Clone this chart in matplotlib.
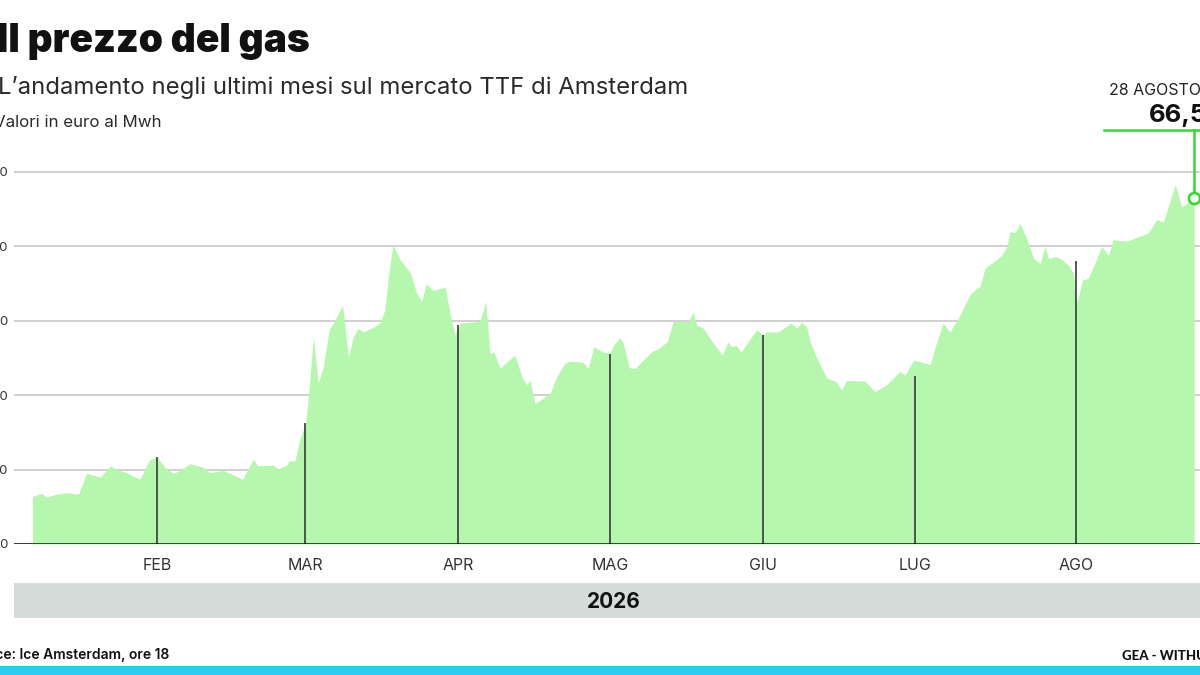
import numpy as np
import matplotlib.pyplot as plt
from matplotlib.patches import Rectangle

# prezzo TTF (euro/MWh), giorno = giorni dal 1 gennaio 2026
giorni = [6.1, 7.9, 8.9, 10.9, 12.9, 15.3, 16.9, 19.6, 21.7, 22.9, 24.9, 27.6, 29.5, 31.0,
          32.5, 34.1, 35.7, 37.2, 39.8, 41.0, 43.5, 45.4, 47.2, 49.2, 50.1, 53.0, 53.9,
          55.5, 56.0, 57.1, 58.0, 59.1, 59.7, 60.7, 61.7, 62.7, 63.9, 65.1, 66.6, 67.8,
          68.8, 69.8, 70.8, 72.5, 74.2, 75.2, 75.9, 76.8, 78.3, 80.4, 81.5, 82.6, 83.6,
          84.9, 87.4, 88.4, 89.4, 90.4, 94.3, 95.5, 96.3, 97.1, 98.3, 99.7, 101.2, 102.6,
          103.6, 104.2, 105.2, 106.8, 108.2, 109.5, 111.1, 112.1, 114.7, 115.7, 116.8,
          118.7, 120.0, 120.7, 122.0, 122.7, 123.9, 125.1, 126.7, 128.4, 130.1, 131.6,
          132.8, 135.9, 136.8, 137.6, 138.9, 140.9, 142.8, 143.9, 144.6, 145.5, 146.6,
          148.0, 149.7, 151.1, 151.7, 154.0, 155.3, 156.5, 157.7, 158.6, 159.6, 160.4,
          161.6, 163.6, 165.5, 166.5, 167.5, 171.1, 173.1, 175.4, 178.0, 179.0, 180.7,
          182.0, 183.9, 184.9, 186.4, 187.7, 189.3, 191.6, 192.9, 193.5, 194.5, 196.1,
          197.7, 198.7, 199.3, 200.3, 201.2, 202.5, 203.8, 205.1, 206.0, 206.7, 208.0,
          208.9, 210.5, 211.5, 212.2, 213.5, 214.8, 216.0, 217.9, 219.4, 220.5, 223.6,
          228.5, 230.5, 232.0, 234.7, 236.2, 238.1, 239.0]
prezzi = [26.4, 26.8, 26.3, 26.7, 26.9, 26.7, 29.5, 29.0, 30.5, 30.0, 29.6, 28.7, 31.3, 31.7,
          30.3, 29.5, 30.0, 30.8, 30.3, 29.6, 29.9, 29.3, 28.7, 31.4, 30.5, 30.6, 30.1,
          30.6, 31.2, 31.2, 34.0, 36.2, 39.8, 47.9, 41.6, 43.8, 48.8, 50.1, 52.1, 45.2,
          47.9, 49.0, 48.5, 49.0, 49.7, 51.5, 55.9, 60.2, 58.2, 56.4, 53.9, 52.6, 55.0,
          54.1, 54.5, 51.0, 48.1, 49.7, 49.9, 52.6, 45.6, 45.8, 43.6, 44.5, 45.4, 42.5,
          41.4, 42.0, 38.9, 39.6, 40.3, 42.5, 44.3, 44.6, 44.4, 43.6, 46.5,
          45.8, 45.6, 46.7, 47.7, 47.0, 43.7, 43.6, 44.7, 45.8, 46.4, 47.2,
          49.9, 49.9, 51.2, 49.4, 49.0, 47.0, 45.4, 47.2, 46.5, 46.7, 45.8,
          47.2, 48.8, 48.1, 48.5, 48.5, 49.1, 49.7, 49.0, 49.8, 49.2, 47.0,
          45.0, 42.3, 41.8, 40.7, 42.0, 41.9, 40.5, 41.4, 43.2, 42.7, 44.7,
          44.5, 44.1, 46.5, 49.7, 48.5, 50.3, 53.5, 54.4, 54.6, 57.1, 57.9,
          58.8, 60.0, 62.0, 61.8, 63.1, 61.1, 58.4, 57.7, 60.0, 58.4, 58.6,
          58.4, 57.5, 56.4, 52.4, 55.5, 55.7, 57.3, 60.0, 58.8, 60.9, 60.7,
          61.8, 63.6, 63.3, 68.3, 65.3, 66.1, 66.5]

mesi = ["FEB", "MAR", "APR", "MAG", "GIU", "LUG", "AGO"]
inizio_mesi = [31, 59, 90, 120, 151, 181, 212]
prezzo_inizio_mese = [31.7, 36.2, 49.4, 45.6, 48.1, 42.6, 58.0]
griglia = [20, 30, 40, 50, 60, 70]
anno = "2026"
ultimo_giorno = 239
ultimo_prezzo = 66.5
etichetta_data = "28 AGOSTO"
etichetta_valore = "66,5"

# l'asse del grafico originale non e' lineare: larghezza dei mesi non proporzionale
ancore_giorni = [2.4, 6, 31, 59, 90, 120, 151, 181, 212, 239, 243.6]
ancore_pos = [14, 32, 157, 305, 458, 610, 763, 915, 1076, 1194, 1214]


def avanti(x):
    return np.interp(x, ancore_giorni, ancore_pos)


def indietro(x):
    return np.interp(x, ancore_pos, ancore_giorni)


plt.rcParams['font.family'] = ['Inter', 'DejaVu Sans']

W, H = 1200, 675
fig = plt.figure(figsize=(12, 6.75), dpi=100)
ax = fig.add_axes([14 / W, (H - 544) / H, 1200 / W, 444 / H])
ax.set_xscale('function', functions=(avanti, indietro))
ax.set_xlim(ancore_giorni[0], ancore_giorni[-1])
ax.set_ylim(20, 20 + 444 / 7.44)

verde = '#b6f7ae'
verde_scuro = '#2fdc2f'

ax.fill_between(giorni, prezzi, 20, color=verde, lw=0, zorder=2)
ax.vlines(inizio_mesi, 20, prezzo_inizio_mese, color='#3a3a3a', lw=1.2, zorder=3)
ax.axhline(20, color='#111111', lw=1.8, zorder=4)

ax.set_yticks(griglia)
ax.set_yticklabels([str(g) for g in griglia])
ax.yaxis.grid(True, color='#c8c8c8', lw=1.2, zorder=1)
ax.set_axisbelow(True)
ax.tick_params(axis='y', length=0, pad=4.3, labelsize=9.5, labelcolor='#333333')
ax.set_xticks(inizio_mesi)
ax.set_xticklabels(mesi)
ax.tick_params(axis='x', length=0, pad=10, labelsize=11.5, labelcolor='#333333')
ax.xaxis.grid(False)
for s in ax.spines.values():
    s.set_visible(False)

# richiamo ultimo valore
y_richiamo = 20 + 414 / 7.44
ax.plot([ultimo_giorno, ultimo_giorno], [ultimo_prezzo, y_richiamo], color=verde_scuro, lw=1.8,
        zorder=5, clip_on=False)
ax.plot([218.4, 243.6], [y_richiamo, y_richiamo], color=verde_scuro, lw=1.8, zorder=5, clip_on=False)
ax.plot(ultimo_giorno, ultimo_prezzo, 'o', mfc='white', mec=verde_scuro, ms=8, mew=1.9, zorder=6,
        clip_on=False)
fig.text(1109 / W, 1 - 95 / H, etichetta_data, ha='left', va='baseline', fontsize=11.5,
         color='#222222')
fig.text(1149 / W, 1 - 121.7 / H, etichetta_valore, ha='left', va='baseline', fontsize=18.5,
         fontweight='bold', color='#111111')

# titoli
fig.text(310 / W, 1 - 52 / H, "Il prezzo del gas", ha='right', va='baseline', fontsize=28,
         fontweight='black', color='#111111')
fig.text(688 / W, 1 - 94 / H, "L’andamento negli ultimi mesi sul mercato TTF di Amsterdam",
         ha='right', va='baseline', fontsize=17.2, color='#2a2a2a')
fig.text(162 / W, 1 - 127 / H, "Valori in euro al Mwh", ha='right', va='baseline', fontsize=12.2,
         color='#2a2a2a')

# fascia anno e piede
fig.add_artist(Rectangle((14 / W, 1 - 618 / H), 1200 / W, 35 / H, transform=fig.transFigure,
                         color='#d6dcd9', lw=0, zorder=0))
fig.text(614 / W, 1 - 602 / H, anno, ha='center', va='center', fontsize=15, fontweight='bold',
         color='#111111')
fig.text(169 / W, 1 - 659 / H, "Source: Ice Amsterdam, ore 18", ha='right', va='baseline',
         fontsize=10, fontweight='semibold', color='#111111')
fig.text(1122 / W, 1 - 660 / H, "GEA - WITHUB", ha='left', va='baseline', fontsize=9.5,
         fontweight='black', color='#111111', family=['Lato', 'DejaVu Sans'])
fig.add_artist(Rectangle((0, 0), 1, 9 / H, transform=fig.transFigure, color='#2ccbef', lw=0))

fig.savefig('out.png', dpi=100)
